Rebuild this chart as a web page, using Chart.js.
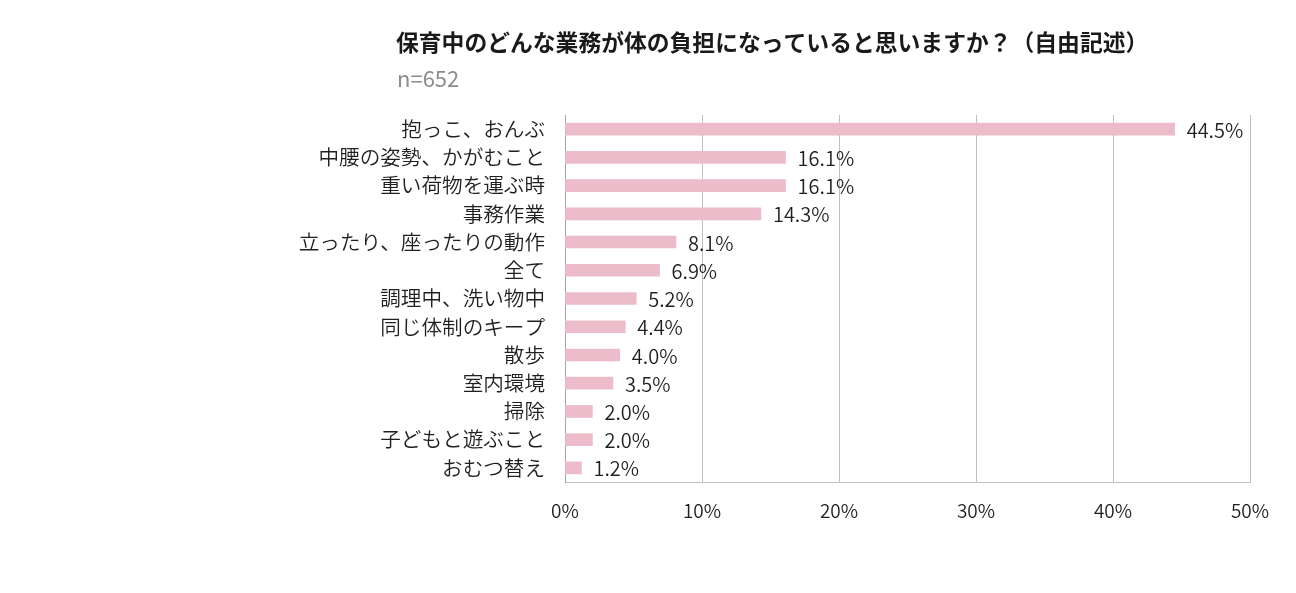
<!DOCTYPE html>
<html>
<head>
<meta charset="utf-8">
<script src="https://cdn.jsdelivr.net/npm/chart.js@4"></script>
<style>
  html, body { margin: 0; padding: 0; background: #fff; }
  #wrap { width: 1296px; height: 593px; }
</style>
</head>
<body>
<div id="wrap"><canvas id="myChart" width="1296" height="593"></canvas></div>
<script>
const titleText = '保育中のどんな業務が体の負担になっていると思いますか？（自由記述）';
const subText = 'n=652';

const labels = ['抱っこ、おんぶ', '中腰の姿勢、かがむこと', '重い荷物を運ぶ時', '事務作業', '立ったり、座ったりの動作', '全て', '調理中、洗い物中', '同じ体制のキープ', '散歩', '室内環境', '掃除', '子どもと遊ぶこと', 'おむつ替え'];
const percents = [44.5, 16.1, 16.1, 14.3, 8.1, 6.9, 5.2, 4.4, 4.0, 3.5, 2.0, 2.0, 1.2];

const font = '"Noto Sans CJK JP", "Noto Sans", sans-serif';

// title + n= drawn at a fixed spot like the original
const headerPlugin = {
  id: 'header',
  afterDraw(chart) {
    const c = chart.ctx;
    c.save();
    c.textBaseline = 'middle';
    c.textAlign = 'left';
    c.fillStyle = '#1a1a1a';
    c.font = 'bold 22.8px ' + font;
    c.fillText(titleText, 396, 42);
    c.fillStyle = '#8c8c8c';
    c.font = '22px ' + font;
    c.fillText(subText, 397, 79);
    c.restore();
  }
};

const valuePlugin = {
  id: 'values',
  afterDatasetsDraw(chart) {
    const c = chart.ctx;
    const meta = chart.getDatasetMeta(0);
    c.save();
    c.font = '350 20px ' + font;
    c.fillStyle = '#1f1f1f';
    c.textAlign = 'left';
    c.textBaseline = 'middle';
    meta.data.forEach((bar, i) => {
      c.fillText(percents[i].toFixed(1) + '%', bar.x + 12, bar.y + 1);
    });
    c.restore();
  }
};

new Chart(document.getElementById('myChart'), {
  type: 'bar',
  data: {
    labels: labels,
    datasets: [{
      data: percents,
      backgroundColor: '#edbccb',
      barThickness: 12
    }]
  },
  options: {
    indexAxis: 'y',
    responsive: false,
    animation: false,
    layout: { padding: { top: 115, right: 46, left: 0, bottom: 0 } },
    plugins: {
      legend: { display: false },
      tooltip: { enabled: false }
    },
    scales: {
      x: {
        min: 0,
        max: 50,
        afterFit(scale) { scale.height = 111; },
        ticks: {
          stepSize: 10,
          padding: 17,
          color: '#1f1f1f',
          font: { family: font, size: 19, weight: '350' },
          callback: v => v + '%'
        },
        grid: { color: '#bfbfbf', drawTicks: false },
        border: { display: true, color: '#bfbfbf' }
      },
      y: {
        afterFit(scale) { scale.width = 565; },
        ticks: {
          padding: 20,
          color: '#1f1f1f',
          font: { family: font, size: 20.6, weight: '350' }
        },
        grid: { display: false, drawTicks: false },
        border: { display: true, color: '#a6a6a6' }
      }
    }
  },
  plugins: [headerPlugin, valuePlugin]
});
</script>
</body>
</html>
